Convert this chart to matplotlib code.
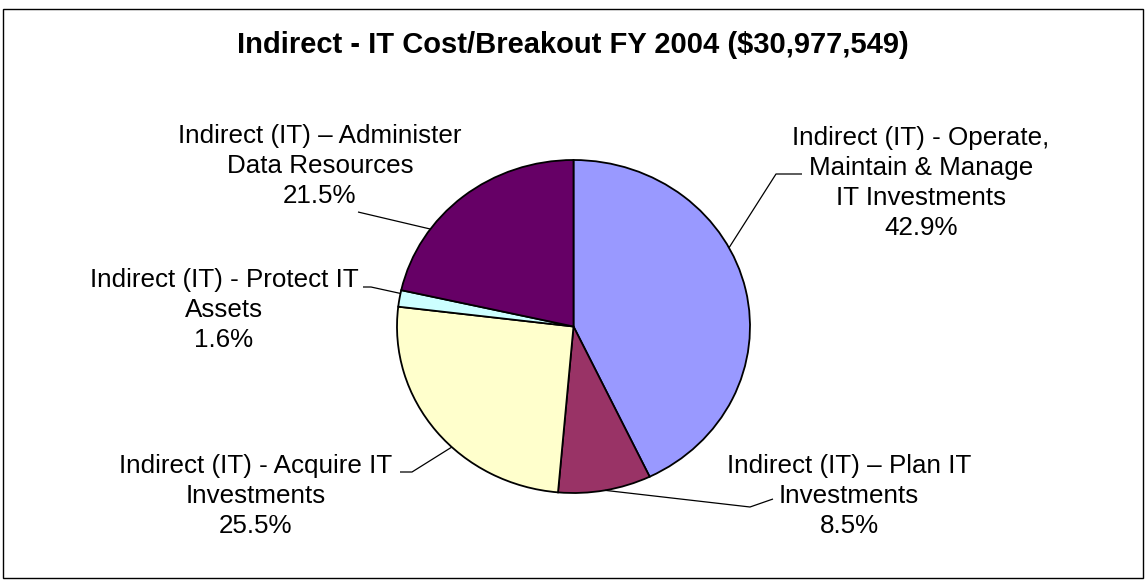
import numpy as np
import matplotlib
matplotlib.use("Agg")
import matplotlib.pyplot as plt
from matplotlib.patches import Rectangle

# ---- data ----
categories = [
    "Indirect (IT) - Operate,\nMaintain & Manage\nIT Investments",
    "Indirect (IT) \u2013 Plan IT\nInvestments",
    "Indirect (IT) - Acquire IT\nInvestments",
    "Indirect (IT) - Protect IT\nAssets",
    "Indirect (IT) \u2013 Administer\nData Resources",
]
values = [42.9, 8.5, 25.5, 1.6, 21.5]
colors = ["#9999FF", "#993366", "#FFFFCC", "#CCFFFF", "#660066"]
title = "Indirect - IT Cost/Breakout FY 2004 ($30,977,549)"

# ---- layout (pixels, y measured from top) ----
W, H = 1147, 581
pie_left, pie_right, pie_top, pie_bottom = 397, 750, 160, 493
cx = (pie_left + pie_right) / 2
cy = (pie_top + pie_bottom) / 2
rx = (pie_right - pie_left) / 2
ry = (pie_bottom - pie_top) / 2

# label centre x, first baseline y, leader anchor fraction within wedge, leader path (label side)
label_cx = [921, 849, 256, 224, 320]
label_base = [145, 473, 473, 287, 143]
anchor_frac = [0.40, 0.50, 0.42, 0.80, 0.30]
leader_pts = [
    [(802, 174), (776, 174)],
    [(773, 499), (750, 507)],
    [(400, 472), (412, 472)],
    [(363, 287), (371, 287)],
    [(358, 212)],
]
line_step = 30

plt.rcParams['font.family'] = ['Liberation Sans', 'DejaVu Sans']
fig = plt.figure(figsize=(W / 100, H / 100), dpi=100)

# pie axes (stretched to match elliptical look)
axp = fig.add_axes([pie_left / W, (H - pie_bottom) / H,
                    (pie_right - pie_left) / W, (pie_bottom - pie_top) / H])
axp.pie(values, colors=colors, startangle=90, counterclock=False, radius=1,
        wedgeprops=dict(edgecolor="black", linewidth=1.3))
axp.set_aspect("auto")
axp.set_xlim(-1, 1)
axp.set_ylim(-1, 1)
axp.axis("off")

# overlay axes in pixel coords
ax = fig.add_axes([0, 0, 1, 1], facecolor="none")
ax.set_xlim(0, W)
ax.set_ylim(H, 0)
ax.axis("off")

ax.add_patch(Rectangle((3, 9), 1140, 569, fill=False, edgecolor="black", linewidth=1.0))

ax.text(573, 53, title, ha="center", va="baseline", fontsize=21, fontweight="bold")

total = sum(values)
cum = 0.0
for i, v in enumerate(values):
    a0 = cum / total * 360
    a1 = (cum + v) / total * 360
    cum += v
    th = np.deg2rad(a0 + anchor_frac[i] * (a1 - a0))
    axx = cx + rx * np.sin(th)
    axy = cy - ry * np.cos(th)
    pts = leader_pts[i] + [(axx, axy)]
    xs = [p[0] for p in pts]
    ys = [p[1] for p in pts]
    ax.plot(xs, ys, color="black", linewidth=0.9, solid_capstyle="butt")

    lines = categories[i].split("\n") + [f"{v / total * 100:.1f}%"]
    for j, ln in enumerate(lines):
        ax.text(label_cx[i], label_base[i] + j * line_step, ln, ha="center",
                va="baseline", fontsize=18.7)

fig.savefig("out.png", dpi=100)
